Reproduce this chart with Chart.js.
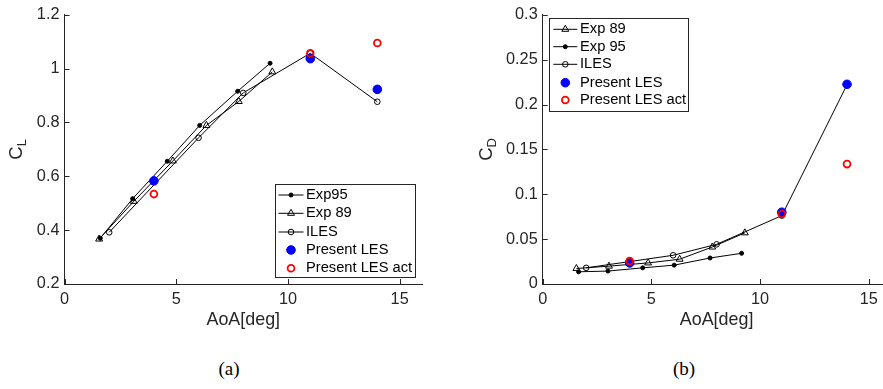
<!DOCTYPE html>
<html>
<head>
<meta charset="utf-8">
<script src="https://cdn.jsdelivr.net/npm/chart.js@4.4.1/dist/chart.umd.min.js"></script>
<style>
html, body { margin: 0; padding: 0; background: #fff; overflow: hidden; width: 883px; height: 389px; }
.panel { position: absolute; top: 0; height: 340px; }
#pa { left: 0; width: 440px; }
#pb { left: 441px; width: 460px; }
.cap { position: absolute; top: 358px; font-family: 'Liberation Serif', serif; font-size: 19px; color: #000; transform: translateX(-50%); }
</style>
</head>
<body>
<div class="panel" id="pa"><canvas id="clChart"></canvas></div>
<div class="panel" id="pb"><canvas id="cdChart"></canvas></div>
<div class="cap" style="left:229px">(a)</div>
<div class="cap" style="left:684px">(b)</div>
<script>
// --- data ---
// (a) lift coefficient
const clExp95Aoa = [1.6, 3.05, 4.6, 6.05, 7.75, 9.2];
const clExp95 = [0.37, 0.517, 0.656, 0.789, 0.916, 1.02];
const clExp89Aoa = [1.55, 3.1, 4.85, 6.35, 7.8, 9.3];
const clExp89 = [0.367, 0.507, 0.657, 0.789, 0.878, 0.988];
const clIlesAoa = [2.0, 6.0, 8.0, 11.0, 14.0];
const clIles = [0.392, 0.743, 0.91, 1.057, 0.877];
const clLesAoa = [4, 11, 14];
const clLes = [0.583, 1.037, 0.923];
const clLesActAoa = [4, 11, 14];
const clLesAct = [0.534, 1.057, 1.095];

// (b) drag coefficient
const cdExp89Aoa = [1.55, 3.05, 4.85, 6.3, 7.8, 9.3];
const cdExp89 = [0.0173, 0.0199, 0.0235, 0.0276, 0.0412, 0.057];
const cdExp95Aoa = [1.65, 3.0, 4.6, 6.05, 7.7, 9.15];
const cdExp95 = [0.0136, 0.0144, 0.018, 0.021, 0.029, 0.0342];
const cdIlesAoa = [2.0, 6.0, 8.0, 11.0, 14.0];
const cdIles = [0.018, 0.032, 0.0442, 0.0762, 0.222];
const cdLesAoa = [4, 11, 14];
const cdLes = [0.0235, 0.080, 0.2225];
const cdLesActAoa = [4, 11, 14];
const cdLesAct = [0.0255, 0.078, 0.1336];

const xTickStep = 5;
const clTickStep = 0.2;
const cdTickStep = 0.05;

const axisColor = '#262626';
const fontFamily = "'Liberation Sans', Arial, sans-serif";
Chart.defaults.font.family = fontFamily;
Chart.defaults.animation = false;

function toPoints(xs, ys) {
    return xs.map((x, i) => ({ x: x, y: ys[i] }));
}

// dataset styles (MATLAB-ish markers)
function exp95Set(label, xs, ys) {
    return { label: label, data: toPoints(xs, ys), showLine: true, borderColor: '#000', borderWidth: 1,
        pointStyle: 'circle', pointRadius: 2, pointBackgroundColor: '#000', pointBorderColor: '#000',
        pointBorderWidth: 1, order: 3 };
}
function exp89Set(label, xs, ys) {
    return { label: label, data: toPoints(xs, ys), showLine: true, borderColor: '#000', borderWidth: 1,
        pointStyle: 'triangle', pointRadius: 4, pointBackgroundColor: 'rgba(0,0,0,0)', pointBorderColor: '#000',
        pointBorderWidth: 1, order: 4 };
}
function ilesSet(xs, ys) {
    return { label: 'ILES', data: toPoints(xs, ys), showLine: true, borderColor: '#000', borderWidth: 1,
        pointStyle: 'circle', pointRadius: 2.8, pointBackgroundColor: 'rgba(0,0,0,0)', pointBorderColor: '#000',
        pointBorderWidth: 1, order: 2 };
}
function lesSet(xs, ys) {
    return { label: 'Present LES', data: toPoints(xs, ys), showLine: false,
        pointStyle: 'circle', pointRadius: 4.3, pointBackgroundColor: '#0000ff', pointBorderColor: '#0000ff',
        pointBorderWidth: 1, order: 1 };
}
function lesActSet(xs, ys) {
    return { label: 'Present LES act', data: toPoints(xs, ys), showLine: false,
        pointStyle: 'circle', pointRadius: 3.4, pointBackgroundColor: 'rgba(0,0,0,0)', pointBorderColor: '#ff0000',
        pointBorderWidth: 1.8, order: 0 };
}

function drawMarker(ctx, style, x, y, r, fill, stroke, lw) {
    ctx.beginPath();
    if (style === 'triangle') {
        for (let k = 0; k < 3; k++) {
            const a = k * 2 * Math.PI / 3;
            const px = x + Math.sin(a) * r, py = y - Math.cos(a) * r;
            if (k) ctx.lineTo(px, py); else ctx.moveTo(px, py);
        }
        ctx.closePath();
    } else {
        ctx.arc(x, y, r, 0, 2 * Math.PI);
    }
    if (fill) { ctx.fillStyle = fill; ctx.fill(); }
    if (stroke) { ctx.strokeStyle = stroke; ctx.lineWidth = lw; ctx.stroke(); }
}

// inward ticks, axis titles and the in-axes legend
function decorPlugin(cfg) {
    return {
        id: 'decor',
        afterDraw(chart) {
            const ctx = chart.ctx;
            const area = chart.chartArea;
            const sx = chart.scales.x, sy = chart.scales.y;
            ctx.save();
            ctx.strokeStyle = axisColor;
            ctx.lineWidth = 1;
            ctx.beginPath();
            sx.ticks.forEach(t => {
                const px = Math.round(sx.getPixelForValue(t.value)) + 0.5;
                ctx.moveTo(px, area.bottom);
                ctx.lineTo(px, area.bottom - 5);
            });
            sy.ticks.forEach(t => {
                const py = Math.round(sy.getPixelForValue(t.value)) + 0.5;
                ctx.moveTo(area.left, py);
                ctx.lineTo(area.left + 5, py);
            });
            ctx.stroke();

            // x title
            ctx.fillStyle = axisColor;
            ctx.font = '17.9px ' + fontFamily;
            ctx.textAlign = 'center';
            ctx.textBaseline = 'middle';
            ctx.fillText('AoA[deg]', (area.left + area.right) / 2, 320);

            // y title with subscript
            ctx.save();
            ctx.translate(cfg.yTitleX, (area.top + area.bottom) / 2);
            ctx.rotate(-Math.PI / 2);
            ctx.font = '18.5px ' + fontFamily;
            const wMain = ctx.measureText(cfg.yMain).width;
            ctx.font = '13px ' + fontFamily;
            const wSub = ctx.measureText(cfg.ySub).width;
            const x0 = -(wMain + wSub) / 2;
            ctx.textAlign = 'left';
            ctx.textBaseline = 'alphabetic';
            ctx.font = '18.5px ' + fontFamily;
            ctx.fillText(cfg.yMain, x0, 7);
            ctx.font = '13px ' + fontFamily;
            ctx.fillText(cfg.ySub, x0 + wMain, 11);
            ctx.restore();

            // legend
            const lg = cfg.legend;
            ctx.fillStyle = '#fff';
            ctx.fillRect(lg.x, lg.y, lg.w, lg.h);
            ctx.strokeStyle = axisColor;
            ctx.lineWidth = 1;
            ctx.strokeRect(Math.round(lg.x) + 0.5, Math.round(lg.y) + 0.5, Math.round(lg.w), Math.round(lg.h));
            ctx.font = '14.7px ' + fontFamily;
            ctx.textAlign = 'left';
            ctx.textBaseline = 'middle';
            chart.data.datasets.forEach((ds, i) => {
                const ry = lg.rows[i];
                const mx = (lg.lineX0 + lg.lineX1) / 2;
                if (ds.showLine) {
                    ctx.strokeStyle = '#000';
                    ctx.lineWidth = 1;
                    ctx.beginPath();
                    ctx.moveTo(lg.lineX0, ry);
                    ctx.lineTo(lg.lineX1, ry);
                    ctx.stroke();
                }
                const fill = ds.pointBackgroundColor === 'rgba(0,0,0,0)' ? null : ds.pointBackgroundColor;
                drawMarker(ctx, ds.pointStyle, mx, ry, ds.pointRadius, fill, ds.pointBorderColor, ds.pointBorderWidth);
                ctx.fillStyle = '#000';
                ctx.fillText(ds.label, lg.textX, ry);
            });
            ctx.restore();
        }
    };
}

function makeChart(canvasId, datasets, yMin, yMax, yStep, yWidth, padTop, padRight, decor) {
    return new Chart(document.getElementById(canvasId).getContext('2d'), {
        type: 'scatter',
        data: { datasets: datasets },
        plugins: [decorPlugin(decor)],
        options: {
            responsive: true,
            maintainAspectRatio: false,
            layout: { padding: { top: padTop, right: padRight, left: 0, bottom: 0 } },
            elements: { line: { tension: 0 } },
            plugins: { legend: { display: false }, tooltip: { enabled: false } },
            scales: {
                x: {
                    type: 'linear', min: 0, max: 16,
                    grid: { display: true, drawOnChartArea: false, drawTicks: false },
                    border: { display: true, color: axisColor, width: 1 },
                    ticks: { stepSize: xTickStep, includeBounds: false, color: axisColor, padding: 6,
                        font: { size: 16.3 }, maxRotation: 0 },
                    afterFit: s => { s.height = 56; }
                },
                y: {
                    type: 'linear', min: yMin, max: yMax,
                    grid: { display: true, drawOnChartArea: false, drawTicks: false },
                    border: { display: true, color: axisColor, width: 1 },
                    ticks: { stepSize: yStep, includeBounds: false, color: axisColor, padding: 5,
                        font: { size: 16.3 }, callback: v => parseFloat(v.toFixed(2)).toString() },
                    afterFit: s => { s.width = yWidth; }
                }
            }
        }
    });
}

makeChart('clChart', [
    exp95Set('Exp95', clExp95Aoa, clExp95),
    exp89Set('Exp 89', clExp89Aoa, clExp89),
    ilesSet(clIlesAoa, clIles),
    lesSet(clLesAoa, clLes),
    lesActSet(clLesActAoa, clLesAct)
], 0.2, 1.2, clTickStep, 64.5, 11, 18, {
    yMain: 'C', ySub: 'L', yTitleX: 15,
    legend: { x: 275, y: 184, w: 140, h: 93, rows: [195, 213.3, 232, 250, 268.3],
        lineX0: 278.5, lineX1: 303.5, textX: 306 }
});

makeChart('cdChart', [
    exp89Set('Exp 89', cdExp89Aoa, cdExp89),
    exp95Set('Exp 95', cdExp95Aoa, cdExp95),
    ilesSet(cdIlesAoa, cdIles),
    lesSet(cdLesAoa, cdLes),
    lesActSet(cdLesActAoa, cdLesAct)
], 0, 0.3, cdTickStep, 101.7, 12.3, 10.5, {
    yMain: 'C', ySub: 'D', yTitleX: 44,
    legend: { x: 108, y: 18, w: 139, h: 93, rows: [29.3, 46.7, 64.3, 82.7, 100],
        lineX0: 112.3, lineX1: 136.3, textX: 139 }
});
</script>
</body>
</html>
